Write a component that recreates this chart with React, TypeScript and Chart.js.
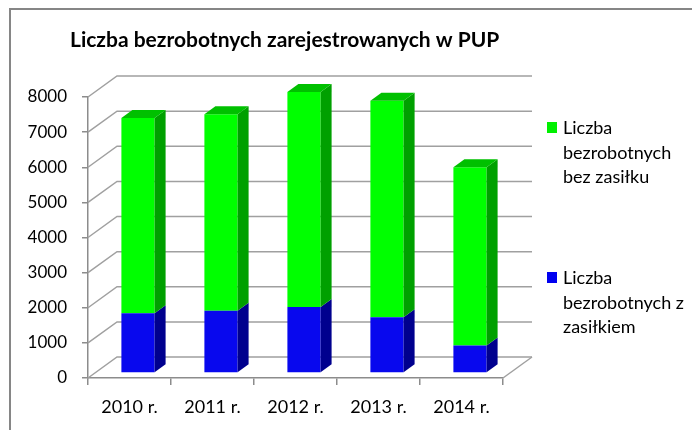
import React, { useEffect, useRef } from "react";
import { Chart, registerables } from "chart.js";

Chart.register(...registerables);

const chartTitle = "Liczba bezrobotnych zarejestrowanych w PUP";
const categories = ["2010 r.", "2011 r.", "2012 r.", "2013 r.", "2014 r."];
const seriesLabels = ["Liczba bezrobotnych z zasiłkiem", "Liczba bezrobotnych bez zasiłku"];
const withBenefit = [1700, 1775, 1880, 1590, 780];
const withoutBenefit = [5560, 5590, 6120, 6160, 5080];
const yMin = 0;
const yMax = 8000;
const yStep = 1000;

const frontColors = ["#0808EE", "#00FF00"];
const sideColors = ["#00008E", "#00A000"];
const topColors = ["#0000B8", "#00C000"];
const legendColors = ["#0000F0", "#00F000"];

const FONT = "Lato, 'Liberation Sans', sans-serif";
const GRID = "#a0a0a0";
const AXIS = "#8c8c8c";

// 3D geometry (pixels)
const WALL_DX = 29;
const WALL_DY = 21;
const BAR_SHIFT_X = 8.5;
const BAR_SHIFT_Y = -5;
const BAR_DEPTH_X = 11;
const BAR_DEPTH_Y = 8;

function wrapText(ctx: CanvasRenderingContext2D, text: string, maxW: number): string[] {
  const words = text.split(" ");
  const lines: string[] = [];
  let cur = "";
  for (const w of words) {
    const test = cur ? cur + " " + w : w;
    if (cur && ctx.measureText(test).width > maxW) {
      lines.push(cur);
      cur = w;
    } else cur = test;
  }
  if (cur) lines.push(cur);
  return lines;
}

const threeDPlugin = {
  id: "threeD",
  beforeDatasetsDraw(chart: any) {
    const { ctx, chartArea, scales } = chart;
    const { left, right, bottom } = chartArea;
    const y = scales.y;
    ctx.save();
    ctx.strokeStyle = GRID;
    ctx.lineWidth = 1.5;
    y.ticks.forEach((t: any) => {
      const py = y.getPixelForValue(t.value);
      ctx.beginPath();
      ctx.moveTo(left, py);
      ctx.lineTo(left + WALL_DX, py - WALL_DY);
      ctx.lineTo(right + WALL_DX, py - WALL_DY);
      ctx.stroke();
    });
    ctx.beginPath();
    ctx.moveTo(right, bottom);
    ctx.lineTo(right + WALL_DX, bottom - WALL_DY);
    ctx.stroke();
    ctx.restore();
    ctx.save();
    ctx.translate(BAR_SHIFT_X, BAR_SHIFT_Y);
  },
  afterDatasetsDraw(chart: any) {
    const ctx = chart.ctx;
    const n = chart.data.datasets.length;
    for (let i = 0; i < n; i++) {
      const meta = chart.getDatasetMeta(i);
      meta.data.forEach((bar: any) => {
        const { x, y, base, width } = bar.getProps(["x", "y", "base", "width"], true);
        const l = x - width / 2;
        const r = x + width / 2;
        ctx.fillStyle = sideColors[i];
        ctx.beginPath();
        ctx.moveTo(r, y);
        ctx.lineTo(r + BAR_DEPTH_X, y - BAR_DEPTH_Y);
        ctx.lineTo(r + BAR_DEPTH_X, base - BAR_DEPTH_Y);
        ctx.lineTo(r, base);
        ctx.closePath();
        ctx.fill();
        if (i === n - 1) {
          ctx.fillStyle = topColors[i];
          ctx.beginPath();
          ctx.moveTo(l, y);
          ctx.lineTo(r, y);
          ctx.lineTo(r + BAR_DEPTH_X, y - BAR_DEPTH_Y);
          ctx.lineTo(l + BAR_DEPTH_X, y - BAR_DEPTH_Y);
          ctx.closePath();
          ctx.fill();
        }
      });
    }
    ctx.restore();
  },
  afterDraw(chart: any) {
    const ctx = chart.ctx;
    ctx.save();
    // frame
    ctx.strokeStyle = "#868686";
    ctx.lineWidth = 2;
    ctx.beginPath();
    ctx.moveTo(10, 430);
    ctx.lineTo(10, 9);
    ctx.lineTo(692, 9);
    ctx.stroke();
    // title
    ctx.fillStyle = "#000";
    ctx.font = `bold 21px ${FONT}`;
    ctx.textBaseline = "alphabetic";
    ctx.textAlign = "left";
    ctx.fillText(chartTitle, 70, 47, 432);
    // legend (top item = last dataset)
    ctx.font = `18px ${FONT}`;
    const items = [
      { ds: 1, sq: 122, base: 134 },
      { ds: 0, sq: 272, base: 284 },
    ];
    items.forEach((it) => {
      ctx.fillStyle = legendColors[it.ds];
      ctx.fillRect(547, it.sq, 10, 11);
      ctx.fillStyle = "#000";
      const lines = wrapText(ctx, chart.data.datasets[it.ds].label, 130);
      lines.forEach((ln, k) => ctx.fillText(ln, 563, it.base + k * 24.5));
    });
    ctx.restore();
  },
};

export default function App() {
  const ref = useRef<HTMLCanvasElement>(null);
  useEffect(() => {
    if (!ref.current) return;
    const chart = new Chart(ref.current, {
      type: "bar",
      data: {
        labels: categories,
        datasets: [
          {
            label: seriesLabels[0],
            data: withBenefit,
            backgroundColor: frontColors[0],
            borderWidth: 0,
            clip: false as any,
          },
          {
            label: seriesLabels[1],
            data: withoutBenefit,
            backgroundColor: frontColors[1],
            borderWidth: 0,
            clip: false as any,
          },
        ],
      },
      options: {
        responsive: false,
        animation: false,
        devicePixelRatio: 1,
        layout: { padding: { left: 0, top: 97, right: 189, bottom: 0 } },
        datasets: { bar: { categoryPercentage: 1, barPercentage: 0.4 } },
        plugins: {
          legend: { display: false },
          title: { display: false },
          tooltip: { enabled: false },
        },
        scales: {
          x: {
            stacked: true,
            offset: true,
            grid: {
              offset: true,
              drawOnChartArea: false,
              drawTicks: true,
              tickLength: 7,
              color: AXIS,
              lineWidth: 1.5,
            },
            border: { display: true, color: AXIS, width: 1.5 },
            ticks: {
              color: "#000",
              padding: 11,
              font: { family: FONT, size: 18 },
              maxRotation: 0,
            },
            afterFit: (s: any) => {
              s.height = 52;
            },
          },
          y: {
            stacked: true,
            min: yMin,
            max: yMax,
            grid: {
              drawOnChartArea: false,
              drawTicks: true,
              tickLength: 6,
              color: AXIS,
              lineWidth: 1.5,
            },
            border: { display: true, color: AXIS, width: 1.5 },
            ticks: {
              stepSize: yStep,
              color: "#000",
              padding: 15,
              font: { family: FONT, size: 17 },
              callback: (v: any) => String(v),
            },
            afterFit: (s: any) => {
              s.width = 88;
            },
          },
        },
      },
      plugins: [threeDPlugin],
    });
    return () => chart.destroy();
  }, []);
  return (
    <canvas
      ref={ref}
      width={692}
      height={430}
      style={{ position: "fixed", left: 0, top: 0, width: 692, height: 430 }}
    />
  );
}
